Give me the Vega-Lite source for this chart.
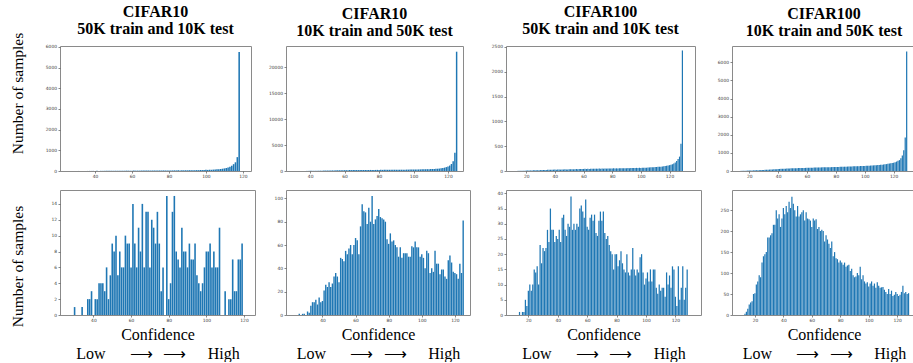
{
"$schema": "https://vega.github.io/schema/vega-lite/v6.json",
"autosize": {"type": "pad"},
"padding": {"left": 9, "top": 3, "right": 0, "bottom": 0},
"background": "white",
"config": {
  "view": {"stroke": "#8a8a8a", "strokeWidth": 1},
  "axis": {"domain": false, "grid": false, "labelFont": "DejaVu Sans", "labelFontSize": 4.4, "labelColor": "#3a3a3a", "tickColor": "#555555", "tickSize": 2, "tickWidth": 0.7, "labelPadding": 1.5, "labelFlush": false, "labelOverlap": false, "titleFont": "Liberation Serif", "titleFontSize": 16, "titleFontWeight": "normal", "titleColor": "#000000"},
  "title": {"font": "Liberation Serif", "fontSize": 16, "fontWeight": "bold", "color": "#000000", "lineHeight": 17, "anchor": "middle", "frame": "group", "offset": 6.8},
  "bar": {"color": "#1f77b4"}
},
"datasets": {
"p1t": [{"x":29,"n":2},{"x":30,"n":1},{"x":31,"n":2},{"x":32,"n":1},{"x":33,"n":3},{"x":34,"n":2},{"x":35,"n":4},{"x":36,"n":3},{"x":37,"n":5},{"x":38,"n":4},{"x":39,"n":6},{"x":40,"n":5},{"x":41,"n":7},{"x":42,"n":6},{"x":43,"n":8},{"x":44,"n":7},{"x":45,"n":9},{"x":46,"n":8},{"x":47,"n":10},{"x":48,"n":9},{"x":49,"n":11},{"x":50,"n":10},{"x":51,"n":12},{"x":52,"n":11},{"x":53,"n":13},{"x":54,"n":12},{"x":55,"n":16},{"x":56,"n":14},{"x":57,"n":17},{"x":58,"n":15},{"x":59,"n":18},{"x":60,"n":16},{"x":61,"n":20},{"x":62,"n":17},{"x":63,"n":19},{"x":64,"n":18},{"x":65,"n":22},{"x":66,"n":19},{"x":67,"n":21},{"x":68,"n":20},{"x":69,"n":24},{"x":70,"n":21},{"x":71,"n":23},{"x":72,"n":22},{"x":73,"n":26},{"x":74,"n":23},{"x":75,"n":25},{"x":76,"n":24},{"x":77,"n":28},{"x":78,"n":25},{"x":79,"n":27},{"x":80,"n":26},{"x":81,"n":30},{"x":82,"n":27},{"x":83,"n":31},{"x":84,"n":28},{"x":85,"n":32},{"x":86,"n":30},{"x":87,"n":34},{"x":88,"n":31},{"x":89,"n":36},{"x":90,"n":33},{"x":91,"n":38},{"x":92,"n":35},{"x":93,"n":40},{"x":94,"n":37},{"x":95,"n":43},{"x":96,"n":40},{"x":97,"n":47},{"x":98,"n":44},{"x":99,"n":51},{"x":100,"n":55},{"x":101,"n":52},{"x":102,"n":61},{"x":103,"n":58},{"x":104,"n":67},{"x":105,"n":73},{"x":106,"n":80},{"x":107,"n":89},{"x":108,"n":98},{"x":109,"n":110},{"x":110,"n":125},{"x":111,"n":145},{"x":112,"n":170},{"x":113,"n":205},{"x":114,"n":255},{"x":115,"n":330},{"x":116,"n":420},{"x":117,"n":670},{"x":118,"n":5750}],
"p2t": [{"x":33,"n":5},{"x":34,"n":8},{"x":35,"n":10},{"x":36,"n":12},{"x":37,"n":15},{"x":38,"n":18},{"x":39,"n":22},{"x":40,"n":25},{"x":41,"n":30},{"x":42,"n":35},{"x":43,"n":40},{"x":44,"n":45},{"x":45,"n":55},{"x":46,"n":60},{"x":47,"n":70},{"x":48,"n":75},{"x":49,"n":85},{"x":50,"n":90},{"x":51,"n":100},{"x":52,"n":110},{"x":53,"n":115},{"x":54,"n":120},{"x":55,"n":130},{"x":56,"n":135},{"x":57,"n":140},{"x":58,"n":150},{"x":59,"n":145},{"x":60,"n":160},{"x":61,"n":155},{"x":62,"n":165},{"x":63,"n":170},{"x":64,"n":175},{"x":65,"n":180},{"x":66,"n":170},{"x":67,"n":185},{"x":68,"n":180},{"x":69,"n":190},{"x":70,"n":185},{"x":71,"n":195},{"x":72,"n":190},{"x":73,"n":200},{"x":74,"n":195},{"x":75,"n":205},{"x":76,"n":200},{"x":77,"n":210},{"x":78,"n":205},{"x":79,"n":215},{"x":80,"n":210},{"x":81,"n":220},{"x":82,"n":215},{"x":83,"n":225},{"x":84,"n":220},{"x":85,"n":230},{"x":86,"n":235},{"x":87,"n":230},{"x":88,"n":240},{"x":89,"n":245},{"x":90,"n":240},{"x":91,"n":250},{"x":92,"n":255},{"x":93,"n":250},{"x":94,"n":260},{"x":95,"n":265},{"x":96,"n":270},{"x":97,"n":265},{"x":98,"n":275},{"x":99,"n":280},{"x":100,"n":285},{"x":101,"n":290},{"x":102,"n":295},{"x":103,"n":300},{"x":104,"n":310},{"x":105,"n":320},{"x":106,"n":330},{"x":107,"n":340},{"x":108,"n":350},{"x":109,"n":360},{"x":110,"n":370},{"x":111,"n":385},{"x":112,"n":400},{"x":113,"n":420},{"x":114,"n":440},{"x":115,"n":470},{"x":116,"n":520},{"x":117,"n":580},{"x":118,"n":650},{"x":119,"n":750},{"x":120,"n":880},{"x":121,"n":1050},{"x":122,"n":1350},{"x":123,"n":1900},{"x":124,"n":3500},{"x":125,"n":23000}],
"p3t": [{"x":14,"n":2},{"x":15,"n":3},{"x":16,"n":4},{"x":17,"n":5},{"x":18,"n":6},{"x":19,"n":7},{"x":20,"n":8},{"x":21,"n":9},{"x":22,"n":10},{"x":23,"n":11},{"x":24,"n":12},{"x":25,"n":13},{"x":26,"n":14},{"x":27,"n":15},{"x":28,"n":16},{"x":29,"n":17},{"x":30,"n":18},{"x":31,"n":19},{"x":32,"n":20},{"x":33,"n":21},{"x":34,"n":22},{"x":35,"n":23},{"x":36,"n":24},{"x":37,"n":25},{"x":38,"n":26},{"x":39,"n":27},{"x":40,"n":28},{"x":41,"n":27},{"x":42,"n":29},{"x":43,"n":30},{"x":44,"n":28},{"x":45,"n":31},{"x":46,"n":30},{"x":47,"n":33},{"x":48,"n":32},{"x":49,"n":31},{"x":50,"n":34},{"x":51,"n":33},{"x":52,"n":35},{"x":53,"n":34},{"x":54,"n":36},{"x":55,"n":38},{"x":56,"n":35},{"x":57,"n":40},{"x":58,"n":39},{"x":59,"n":42},{"x":60,"n":41},{"x":61,"n":43},{"x":62,"n":40},{"x":63,"n":44},{"x":64,"n":42},{"x":65,"n":45},{"x":66,"n":43},{"x":67,"n":46},{"x":68,"n":44},{"x":69,"n":47},{"x":70,"n":45},{"x":71,"n":48},{"x":72,"n":46},{"x":73,"n":49},{"x":74,"n":47},{"x":75,"n":50},{"x":76,"n":48},{"x":77,"n":51},{"x":78,"n":49},{"x":79,"n":52},{"x":80,"n":50},{"x":81,"n":53},{"x":82,"n":51},{"x":83,"n":54},{"x":84,"n":52},{"x":85,"n":55},{"x":86,"n":53},{"x":87,"n":56},{"x":88,"n":54},{"x":89,"n":57},{"x":90,"n":55},{"x":91,"n":58},{"x":92,"n":56},{"x":93,"n":60},{"x":94,"n":58},{"x":95,"n":62},{"x":96,"n":60},{"x":97,"n":63},{"x":98,"n":61},{"x":99,"n":65},{"x":100,"n":63},{"x":101,"n":66},{"x":102,"n":64},{"x":103,"n":68},{"x":104,"n":66},{"x":105,"n":70},{"x":106,"n":72},{"x":107,"n":74},{"x":108,"n":76},{"x":109,"n":78},{"x":110,"n":80},{"x":111,"n":82},{"x":112,"n":84},{"x":113,"n":86},{"x":114,"n":88},{"x":115,"n":92},{"x":116,"n":96},{"x":117,"n":100},{"x":118,"n":105},{"x":119,"n":110},{"x":120,"n":118},{"x":121,"n":125},{"x":122,"n":135},{"x":123,"n":150},{"x":124,"n":170},{"x":125,"n":200},{"x":126,"n":240},{"x":127,"n":290},{"x":128,"n":550},{"x":129,"n":2430}],
"p4t": [{"x":14,"n":5},{"x":15,"n":8},{"x":16,"n":12},{"x":17,"n":15},{"x":18,"n":18},{"x":19,"n":22},{"x":20,"n":25},{"x":21,"n":28},{"x":22,"n":32},{"x":23,"n":35},{"x":24,"n":38},{"x":25,"n":42},{"x":26,"n":45},{"x":27,"n":48},{"x":28,"n":52},{"x":29,"n":56},{"x":30,"n":60},{"x":31,"n":65},{"x":32,"n":70},{"x":33,"n":74},{"x":34,"n":78},{"x":35,"n":83},{"x":36,"n":88},{"x":37,"n":92},{"x":38,"n":97},{"x":39,"n":102},{"x":40,"n":110},{"x":41,"n":113},{"x":42,"n":118},{"x":43,"n":122},{"x":44,"n":126},{"x":45,"n":130},{"x":46,"n":134},{"x":47,"n":137},{"x":48,"n":141},{"x":49,"n":145},{"x":50,"n":150},{"x":51,"n":152},{"x":52,"n":155},{"x":53,"n":158},{"x":54,"n":160},{"x":55,"n":162},{"x":56,"n":165},{"x":57,"n":167},{"x":58,"n":170},{"x":59,"n":172},{"x":60,"n":175},{"x":61,"n":178},{"x":62,"n":180},{"x":63,"n":182},{"x":64,"n":185},{"x":65,"n":187},{"x":66,"n":190},{"x":67,"n":192},{"x":68,"n":195},{"x":69,"n":197},{"x":70,"n":200},{"x":71,"n":202},{"x":72,"n":204},{"x":73,"n":206},{"x":74,"n":208},{"x":75,"n":210},{"x":76,"n":212},{"x":77,"n":214},{"x":78,"n":216},{"x":79,"n":218},{"x":80,"n":220},{"x":81,"n":223},{"x":82,"n":226},{"x":83,"n":229},{"x":84,"n":232},{"x":85,"n":235},{"x":86,"n":238},{"x":87,"n":241},{"x":88,"n":244},{"x":89,"n":247},{"x":90,"n":250},{"x":91,"n":253},{"x":92,"n":256},{"x":93,"n":259},{"x":94,"n":262},{"x":95,"n":265},{"x":96,"n":268},{"x":97,"n":271},{"x":98,"n":274},{"x":99,"n":277},{"x":100,"n":280},{"x":101,"n":285},{"x":102,"n":290},{"x":103,"n":295},{"x":104,"n":300},{"x":105,"n":305},{"x":106,"n":310},{"x":107,"n":315},{"x":108,"n":320},{"x":109,"n":325},{"x":110,"n":330},{"x":111,"n":340},{"x":112,"n":350},{"x":113,"n":360},{"x":114,"n":370},{"x":115,"n":380},{"x":116,"n":395},{"x":117,"n":410},{"x":118,"n":425},{"x":119,"n":440},{"x":120,"n":450},{"x":121,"n":480},{"x":122,"n":520},{"x":123,"n":560},{"x":124,"n":600},{"x":125,"n":700},{"x":126,"n":850},{"x":127,"n":1150},{"x":128,"n":1850},{"x":129,"n":6600}],
"p1b": [{"x":30,"n":1},{"x":34,"n":1},{"x":37,"n":2},{"x":38,"n":2},{"x":39,"n":3},{"x":41,"n":2},{"x":42,"n":2},{"x":43,"n":4},{"x":44,"n":4},{"x":45,"n":4},{"x":46,"n":3},{"x":47,"n":6},{"x":48,"n":2},{"x":49,"n":5},{"x":50,"n":9},{"x":51,"n":8},{"x":52,"n":10},{"x":53,"n":5},{"x":54,"n":8},{"x":55,"n":6},{"x":56,"n":6},{"x":57,"n":10},{"x":58,"n":9},{"x":59,"n":9},{"x":60,"n":6},{"x":61,"n":14},{"x":62,"n":9},{"x":63,"n":6},{"x":64,"n":11},{"x":65,"n":8},{"x":66,"n":14},{"x":67,"n":6},{"x":68,"n":13},{"x":69,"n":13},{"x":70,"n":6},{"x":71,"n":12},{"x":72,"n":11},{"x":73,"n":9},{"x":74,"n":13},{"x":75,"n":9},{"x":76,"n":3},{"x":77,"n":6},{"x":79,"n":15},{"x":80,"n":2},{"x":81,"n":4},{"x":82,"n":13},{"x":83,"n":15},{"x":84,"n":8},{"x":85,"n":7},{"x":86,"n":6},{"x":87,"n":11},{"x":88,"n":8},{"x":89,"n":8},{"x":90,"n":6},{"x":91,"n":9},{"x":92,"n":7},{"x":93,"n":7},{"x":94,"n":9},{"x":95,"n":5},{"x":96,"n":4},{"x":97,"n":3},{"x":98,"n":4},{"x":99,"n":6},{"x":100,"n":8},{"x":101,"n":8},{"x":102,"n":9},{"x":103,"n":6},{"x":104,"n":8},{"x":105,"n":6},{"x":106,"n":6},{"x":107,"n":11},{"x":110,"n":3},{"x":112,"n":2},{"x":113,"n":2},{"x":114,"n":7},{"x":115,"n":3},{"x":116,"n":3},{"x":117,"n":7},{"x":118,"n":7},{"x":119,"n":9}],
"p2b": [{"x":26,"n":1},{"x":28,"n":1},{"x":29,"n":1},{"x":31,"n":3},{"x":32,"n":2},{"x":33,"n":8},{"x":34,"n":11},{"x":35,"n":11},{"x":36,"n":13},{"x":37,"n":9},{"x":38,"n":15},{"x":39,"n":11},{"x":40,"n":12},{"x":41,"n":21},{"x":42,"n":26},{"x":43,"n":24},{"x":44,"n":28},{"x":45,"n":24},{"x":46,"n":27},{"x":47,"n":33},{"x":48,"n":36},{"x":49,"n":33},{"x":50,"n":28},{"x":51,"n":49},{"x":52,"n":48},{"x":53,"n":46},{"x":54,"n":55},{"x":55,"n":52},{"x":56,"n":57},{"x":57,"n":60},{"x":58,"n":52},{"x":59,"n":60},{"x":60,"n":66},{"x":61,"n":64},{"x":62,"n":52},{"x":63,"n":76},{"x":64,"n":95},{"x":65,"n":89},{"x":66,"n":88},{"x":67,"n":78},{"x":68,"n":92},{"x":69,"n":80},{"x":70,"n":102},{"x":71,"n":78},{"x":72,"n":82},{"x":73,"n":85},{"x":74,"n":91},{"x":75,"n":84},{"x":76,"n":83},{"x":77,"n":82},{"x":78,"n":80},{"x":79,"n":65},{"x":80,"n":61},{"x":81,"n":70},{"x":82,"n":63},{"x":83,"n":64},{"x":84,"n":60},{"x":85,"n":58},{"x":86,"n":50},{"x":87,"n":58},{"x":88,"n":49},{"x":89,"n":53},{"x":90,"n":53},{"x":91,"n":53},{"x":92,"n":50},{"x":93,"n":50},{"x":94,"n":59},{"x":95,"n":58},{"x":96,"n":63},{"x":97,"n":58},{"x":98,"n":58},{"x":99,"n":50},{"x":100,"n":52},{"x":101,"n":49},{"x":102,"n":40},{"x":103,"n":55},{"x":104,"n":53},{"x":105,"n":36},{"x":106,"n":40},{"x":107,"n":37},{"x":108,"n":55},{"x":109,"n":44},{"x":110,"n":44},{"x":111,"n":35},{"x":112,"n":39},{"x":113,"n":39},{"x":114,"n":33},{"x":115,"n":31},{"x":116,"n":47},{"x":117,"n":51},{"x":118,"n":45},{"x":119,"n":37},{"x":120,"n":36},{"x":121,"n":35},{"x":122,"n":31},{"x":123,"n":44},{"x":124,"n":36},{"x":125,"n":81}],
"p3b": [{"x":14,"n":1},{"x":16,"n":1},{"x":17,"n":1},{"x":18,"n":5},{"x":19,"n":3},{"x":20,"n":8},{"x":21,"n":10},{"x":22,"n":8},{"x":23,"n":10},{"x":24,"n":15},{"x":25,"n":14},{"x":26,"n":16},{"x":27,"n":10},{"x":28,"n":23},{"x":29,"n":17},{"x":30,"n":22},{"x":31,"n":21},{"x":32,"n":22},{"x":33,"n":28},{"x":34,"n":24},{"x":35,"n":35},{"x":36,"n":28},{"x":37,"n":28},{"x":38,"n":24},{"x":39,"n":26},{"x":40,"n":25},{"x":41,"n":28},{"x":42,"n":24},{"x":43,"n":32},{"x":44,"n":33},{"x":45,"n":28},{"x":46,"n":26},{"x":47,"n":30},{"x":48,"n":29},{"x":49,"n":39},{"x":50,"n":28},{"x":51,"n":30},{"x":52,"n":28},{"x":53,"n":30},{"x":54,"n":29},{"x":55,"n":35},{"x":56,"n":36},{"x":57,"n":34},{"x":58,"n":32},{"x":59,"n":38},{"x":60,"n":29},{"x":61,"n":28},{"x":62,"n":32},{"x":63,"n":33},{"x":64,"n":31},{"x":65,"n":33},{"x":66,"n":27},{"x":67,"n":26},{"x":68,"n":31},{"x":69,"n":34},{"x":70,"n":31},{"x":71,"n":34},{"x":72,"n":27},{"x":73,"n":25},{"x":74,"n":26},{"x":75,"n":23},{"x":76,"n":21},{"x":77,"n":20},{"x":78,"n":15},{"x":79,"n":20},{"x":80,"n":20},{"x":81,"n":16},{"x":82,"n":18},{"x":83,"n":21},{"x":84,"n":17},{"x":85,"n":15},{"x":86,"n":14},{"x":87,"n":20},{"x":88,"n":14},{"x":89,"n":13},{"x":90,"n":15},{"x":91,"n":22},{"x":92,"n":15},{"x":93,"n":13},{"x":94,"n":15},{"x":95,"n":14},{"x":96,"n":19},{"x":97,"n":20},{"x":98,"n":14},{"x":99,"n":10},{"x":100,"n":12},{"x":101,"n":14},{"x":102,"n":11},{"x":103,"n":15},{"x":104,"n":11},{"x":105,"n":15},{"x":106,"n":15},{"x":107,"n":9},{"x":108,"n":7},{"x":109,"n":10},{"x":110,"n":8},{"x":111,"n":9},{"x":112,"n":9},{"x":113,"n":6},{"x":114,"n":14},{"x":115,"n":10},{"x":116,"n":13},{"x":117,"n":9},{"x":118,"n":16},{"x":119,"n":15},{"x":120,"n":6},{"x":121,"n":3},{"x":122,"n":16},{"x":123,"n":5},{"x":124,"n":9},{"x":125,"n":16},{"x":126,"n":5},{"x":127,"n":9},{"x":128,"n":15}],
"p4b": [{"x":13,"n":3},{"x":14,"n":8},{"x":15,"n":15},{"x":16,"n":25},{"x":17,"n":30},{"x":18,"n":33},{"x":19,"n":50},{"x":20,"n":52},{"x":21,"n":73},{"x":22,"n":80},{"x":23,"n":95},{"x":24,"n":90},{"x":25,"n":125},{"x":26,"n":140},{"x":27,"n":145},{"x":28,"n":150},{"x":29,"n":185},{"x":30,"n":185},{"x":31,"n":190},{"x":32,"n":195},{"x":33,"n":215},{"x":34,"n":215},{"x":35,"n":250},{"x":36,"n":230},{"x":37,"n":240},{"x":38,"n":210},{"x":39,"n":230},{"x":40,"n":255},{"x":41,"n":240},{"x":42,"n":260},{"x":43,"n":245},{"x":44,"n":270},{"x":45,"n":255},{"x":46,"n":282},{"x":47,"n":265},{"x":48,"n":250},{"x":49,"n":235},{"x":50,"n":260},{"x":51,"n":235},{"x":52,"n":240},{"x":53,"n":245},{"x":54,"n":250},{"x":55,"n":225},{"x":56,"n":245},{"x":57,"n":230},{"x":58,"n":228},{"x":59,"n":225},{"x":60,"n":210},{"x":61,"n":230},{"x":62,"n":225},{"x":63,"n":228},{"x":64,"n":205},{"x":65,"n":210},{"x":66,"n":200},{"x":67,"n":203},{"x":68,"n":200},{"x":69,"n":175},{"x":70,"n":190},{"x":71,"n":180},{"x":72,"n":170},{"x":73,"n":160},{"x":74,"n":175},{"x":75,"n":140},{"x":76,"n":150},{"x":77,"n":135},{"x":78,"n":133},{"x":79,"n":125},{"x":80,"n":130},{"x":81,"n":125},{"x":82,"n":120},{"x":83,"n":125},{"x":84,"n":115},{"x":85,"n":118},{"x":86,"n":120},{"x":87,"n":105},{"x":88,"n":110},{"x":89,"n":95},{"x":90,"n":90},{"x":91,"n":92},{"x":92,"n":100},{"x":93,"n":95},{"x":94,"n":115},{"x":95,"n":85},{"x":96,"n":95},{"x":97,"n":80},{"x":98,"n":75},{"x":99,"n":78},{"x":100,"n":68},{"x":101,"n":75},{"x":102,"n":80},{"x":103,"n":70},{"x":104,"n":75},{"x":105,"n":65},{"x":106,"n":78},{"x":107,"n":70},{"x":108,"n":65},{"x":109,"n":66},{"x":110,"n":67},{"x":111,"n":60},{"x":112,"n":55},{"x":113,"n":50},{"x":114,"n":62},{"x":115,"n":50},{"x":116,"n":58},{"x":117,"n":45},{"x":118,"n":48},{"x":119,"n":55},{"x":120,"n":50},{"x":121,"n":45},{"x":122,"n":48},{"x":123,"n":55},{"x":124,"n":70},{"x":125,"n":52},{"x":126,"n":55},{"x":127,"n":50},{"x":128,"n":52}],
"empty": []
},
"columns": 7,
"align": "each",
"bounds": "flush",
"spacing": {"row": 19, "column": 0},
"concat": [
{"width": 191, "height": 125, "data": {"name": "p1t"}, "title": {"text": ["CIFAR10", "50K train and 10K test"], "offset": -4.5},
 "mark": {"type": "bar", "width": 1.56},
 "encoding": {
  "x": {"field": "x", "type": "quantitative", "scale": {"domain": [23.7, 121.7], "nice": false, "zero": false}, "axis": {"title": null, "values": [40,60,80,100,120], "format": "d"}},
  "y": {"field": "n", "type": "quantitative", "scale": {"domain": [0, 6040], "nice": false}, "axis": {"title": "Number of samples", "titleFontSize": 15.5, "titleX": -38, "titleY": 47, "titleBaseline": "alphabetic", "titleAngle": 270, "titleAlign": "center", "values": [0,1000,2000,3000,4000,5000,6000], "format": "d"}}
 }},
{"width": 31, "height": 125, "data": {"name": "empty"}, "mark": {"type": "point", "opacity": 0}, "encoding": {}, "view": {"stroke": null}},
{"width": 177, "height": 125, "data": {"name": "p2t"}, "title": {"text": ["CIFAR10", "10K train and 50K test"]},
 "mark": {"type": "bar", "width": 1.46},
 "encoding": {
  "x": {"field": "x", "type": "quantitative", "scale": {"domain": [28.9, 125.8], "nice": false, "zero": false}, "axis": {"title": null, "values": [40,60,80,100,120], "format": "d"}},
  "y": {"field": "n", "type": "quantitative", "scale": {"domain": [0, 24100], "nice": false}, "axis": {"title": null, "values": [0,5000,10000,15000,20000], "format": "d"}}
 }},
{"width": 36, "height": 125, "data": {"name": "empty"}, "mark": {"type": "point", "opacity": 0}, "encoding": {}, "view": {"stroke": null}},
{"width": 189, "height": 125, "data": {"name": "p3t"}, "title": {"text": ["CIFAR100", "50K train and 10K test"]},
 "mark": {"type": "bar", "width": 1.21},
 "encoding": {
  "x": {"field": "x", "type": "quantitative", "scale": {"domain": [9.4, 134.3], "nice": false, "zero": false}, "axis": {"title": null, "values": [20,40,60,80,100,120], "format": "d"}},
  "y": {"field": "n", "type": "quantitative", "scale": {"domain": [0, 2520], "nice": false}, "axis": {"title": null, "values": [0,500,1000,1500,2000,2500], "format": "d"}}
 }},
{"width": 31, "height": 125, "data": {"name": "empty"}, "mark": {"type": "point", "opacity": 0}, "encoding": {}, "view": {"stroke": null}},
{"width": 184, "height": 125, "data": {"name": "p4t"}, "title": {"text": ["CIFAR100", "10K train and 50K test"]},
 "mark": {"type": "bar", "width": 1.22},
 "encoding": {
  "x": {"field": "x", "type": "quantitative", "scale": {"domain": [11.5, 132.0], "nice": false, "zero": false}, "axis": {"title": null, "values": [20,40,60,80,100,120], "format": "d"}},
  "y": {"field": "n", "type": "quantitative", "scale": {"domain": [0, 6900], "nice": false}, "axis": {"title": null, "values": [0,1000,2000,3000,4000,5000,6000], "format": "d"}}
 }},
{"width": 195, "height": 125, "data": {"name": "p1b"},
 "mark": {"type": "bar", "width": 1.59},
 "encoding": {
  "x": {"field": "x", "type": "quantitative", "scale": {"domain": [24.9, 123.2], "nice": false, "zero": false}, "axis": {"title": ["Confidence", "Low\u2003\u2002⟶\u2002\u2006⟶\u2003\u2004High"], "titleY": 24, "titleBaseline": "alphabetic", "titleLineHeight": 19, "values": [40,60,80,100,120], "format": "d"}},
  "y": {"field": "n", "type": "quantitative", "scale": {"domain": [0, 15.75], "nice": false}, "axis": {"title": "Number of samples", "titleFontSize": 15.5, "titleX": -38, "titleY": 76, "titleBaseline": "alphabetic", "titleAngle": 270, "titleAlign": "center", "values": [0,2,4,6,8,10,12,14], "format": "d"}}
 }},
{"width": 31, "height": 125, "data": {"name": "empty"}, "mark": {"type": "point", "opacity": 0}, "encoding": {}, "view": {"stroke": null}},
{"width": 184, "height": 125, "data": {"name": "p2b"},
 "mark": {"type": "bar", "width": 1.4},
 "encoding": {
  "x": {"field": "x", "type": "quantitative", "scale": {"domain": [21, 126.1], "nice": false, "zero": false}, "axis": {"title": ["Confidence", "Low\u2003\u2002⟶\u2002\u2006⟶\u2003\u2004High"], "titleY": 24, "titleBaseline": "alphabetic", "titleLineHeight": 19, "values": [40,60,80,100,120], "format": "d"}},
  "y": {"field": "n", "type": "quantitative", "scale": {"domain": [0, 107.2], "nice": false}, "axis": {"title": null, "values": [0,20,40,60,80,100], "format": "d"}}
 }},
{"width": 36, "height": 125, "data": {"name": "empty"}, "mark": {"type": "point", "opacity": 0}, "encoding": {}, "view": {"stroke": null}},
{"width": 195, "height": 125, "data": {"name": "p3b"},
 "mark": {"type": "bar", "width": 1.24},
 "encoding": {
  "x": {"field": "x", "type": "quantitative", "scale": {"domain": [8.2, 134], "nice": false, "zero": false}, "axis": {"title": ["Confidence", "Low\u2003\u2002⟶\u2002\u2006⟶\u2003\u2004High"], "titleY": 24, "titleBaseline": "alphabetic", "titleLineHeight": 19, "values": [20,40,60,80,100,120], "format": "d"}},
  "y": {"field": "n", "type": "quantitative", "scale": {"domain": [0, 41.1], "nice": false}, "axis": {"title": null, "values": [0,5,10,15,20,25,30,35,40], "format": "d"}}
 }},
{"width": 31, "height": 125, "data": {"name": "empty"}, "mark": {"type": "point", "opacity": 0}, "encoding": {}, "view": {"stroke": null}},
{"width": 184, "height": 125, "data": {"name": "p4b"},
 "mark": {"type": "bar", "width": 1.2},
 "encoding": {
  "x": {"field": "x", "type": "quantitative", "scale": {"domain": [7.4, 129.7], "nice": false, "zero": false}, "axis": {"title": ["Confidence", "Low\u2003\u2002⟶\u2002\u2006⟶\u2003\u2004High"], "titleY": 24, "titleBaseline": "alphabetic", "titleLineHeight": 19, "values": [20,40,60,80,100,120], "format": "d"}},
  "y": {"field": "n", "type": "quantitative", "scale": {"domain": [0, 298], "nice": false}, "axis": {"title": null, "values": [0,50,100,150,200,250], "format": "d"}}
 }}
]
}
